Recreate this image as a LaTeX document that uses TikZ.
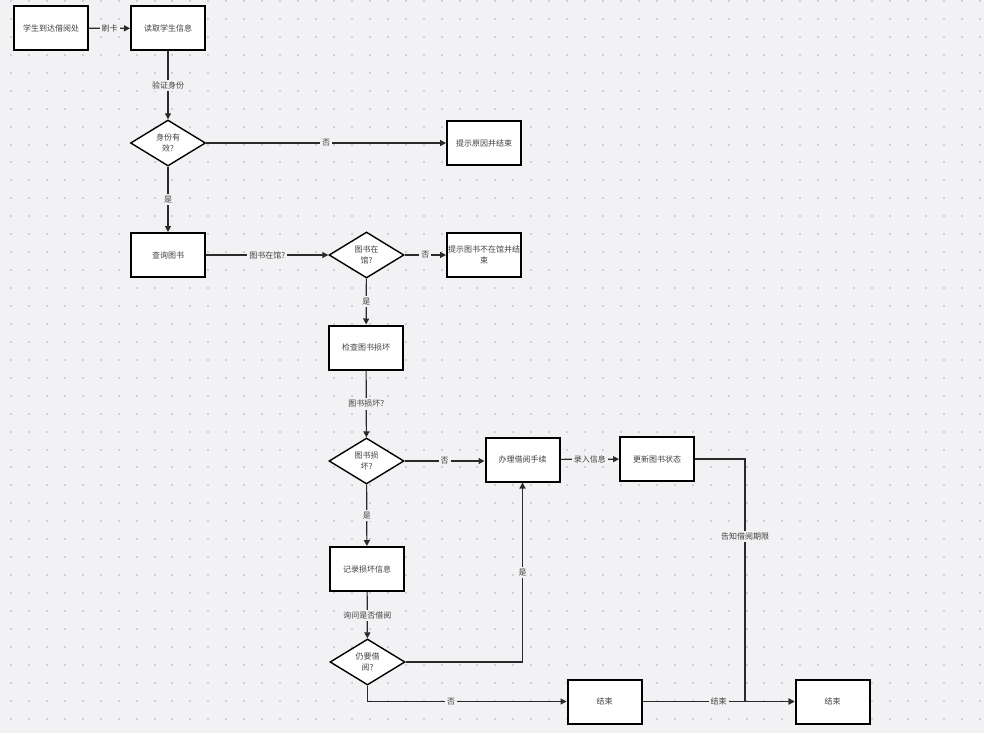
\documentclass[tikz,border=0pt]{standalone}
\usepackage{fontspec}
\setmainfont{Noto Sans CJK SC}
\usetikzlibrary{shapes.geometric,arrows.meta}
\definecolor{bgc}{HTML}{F2F2F4}
\definecolor{dotc}{HTML}{D0D0D4}
\definecolor{txt}{HTML}{404040}
\definecolor{lnc}{HTML}{2A2A2A}
\begin{document}
\begin{tikzpicture}[x=1pt,y=-1pt,
  every node/.style={font=\fontsize{8}{11}\selectfont, text=txt},
  box/.style={draw=black, line width=2pt, fill=white, minimum width=74pt, minimum height=44pt, inner sep=1pt, align=center},
  dia/.style={diamond, draw=black, line width=1.4pt, fill=white, minimum width=75pt, minimum height=46pt, inner sep=0pt, align=center},
  lbl/.style={fill=bgc, inner sep=2pt},
  arr/.style={draw=lnc, line width=1.2pt, -{Triangle[length=6pt,width=6pt]}}
]
\fill[bgc] (0,0) rectangle (984,733);
\useasboundingbox (0,0) rectangle (984,733);
\foreach \i in {0,...,54} {
  \foreach \j in {0,...,40} {
    \fill[dotc] ({11+17.94*\i-1},{1+17.94*\j-1}) rectangle ++(2,2);
  }
}
% nodes
\node[box] (a) at (51,28) {学生到达借阅处};
\node[box] (b) at (168,28.5) {读取学生信息};
\node[dia] (d1) at (168,143) {身份有\\效?};
\node[box] (r1) at (484,143) {提示原因并结束};
\node[box] (q) at (168,255) {查询图书};
\node[dia] (d2) at (366.5,255) {图书在\\馆?};
\node[box] (r2) at (484,255) {提示图书不在馆并结\\束};
\node[box] (c) at (366,347.5) {检查图书损坏};
\node[dia] (d3) at (366.5,461) {图书损\\坏?};
\node[box] (h) at (522.5,459.5) {办理借阅手续};
\node[box] (u) at (657,459) {更新图书状态};
\node[box] (rec) at (367,569) {记录损坏信息};
\node[dia] (d4) at (367.5,662) {仍要借\\阅?};
\node[box] (e1) at (604.5,701.5) {结束};
\node[box] (e2) at (832.5,701.5) {结束};
\coordinate (k) at (745,701.5);
% edges
\draw[arr] (a) -- node[lbl]{刷卡} (b);
\draw[arr] (b) -- node[lbl]{验证身份} (d1);
\draw[arr] (d1) -- node[lbl]{否} (r1);
\draw[arr] (d1) -- node[lbl]{是} (q);
\draw[arr] (q) -- node[lbl]{图书在馆?} (d2);
\draw[arr] (d2) -- node[lbl]{否} (r2);
\draw[arr] (d2) -- node[lbl]{是} (c);
\draw[arr] (c) -- node[lbl]{图书损坏?} (d3);
\draw[arr] (d3.east) -- node[lbl]{否} (d3.east -| h.west);
\draw[arr] (d3) -- node[lbl]{是} (rec);
\draw[arr] (rec) -- node[lbl]{询问是否借阅} (d4);
\draw[arr] (h) -- node[lbl]{录入信息} (u);
\draw[arr] (d4.east) -| node[lbl,pos=0.75]{是} (h.south);
\draw[arr] (d4.south) |- node[lbl,pos=0.71]{否} (e1.west);
\draw[arr] (u.east) -| node[lbl,pos=0.66]{告知借阅期限} (k) -- (e2.west);
\draw[arr] (e1) -- node[lbl]{结束} (e2);
\end{tikzpicture}
\end{document}
